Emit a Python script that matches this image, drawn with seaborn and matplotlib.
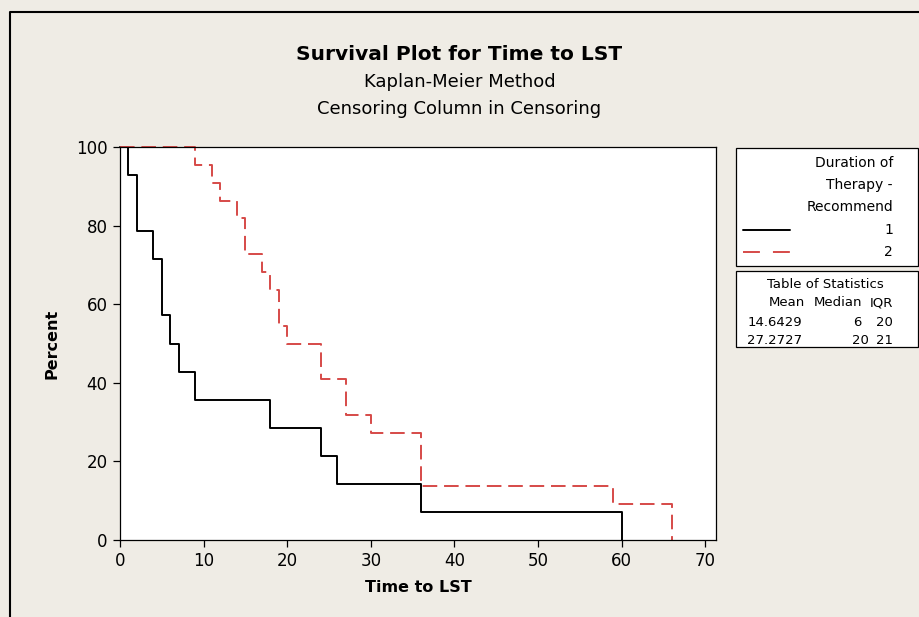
import matplotlib
matplotlib.use("Agg")
import matplotlib.pyplot as plt
from matplotlib.patches import Rectangle
from matplotlib.lines import Line2D
import seaborn as sns
import pandas as pd

# Kaplan-Meier steps
time_1 = [0, 1, 2, 4, 5, 6, 7, 9, 18, 24, 26, 36, 60]
pct_1 = [100, 92.857, 78.571, 71.429, 57.143, 50.0, 42.857, 35.714,
         28.571, 21.429, 14.286, 7.143, 0]
time_2 = [0, 9, 11, 12, 14, 15, 17, 18, 19, 20, 24, 27, 30, 36, 59, 66]
pct_2 = [100, 95.455, 90.909, 86.364, 81.818, 72.727, 68.182, 63.636,
         54.545, 50.0, 40.909, 31.818, 27.273, 13.636, 9.091, 0]

groups = ["1", "2"]
stat_mean = ["14.6429", "27.2727"]
stat_median = ["6", "20"]
stat_iqr = ["20", "21"]

x_ticks = [0, 10, 20, 30, 40, 50, 60, 70]
y_ticks = [0, 20, 40, 60, 80, 100]

BG = "#EFECE5"
RED = "#D64A48"
W, H = 919, 617
DASH = (0, (7.5, 3.5))

sns.set_style("ticks")
plt.rcParams["font.family"] = ["DejaVu Sans"]
plt.rcParams.update({"text.color": "black", "axes.labelcolor": "black",
                     "xtick.color": "black", "ytick.color": "black"})

fig = plt.figure(figsize=(W / 100, H / 100), dpi=100, facecolor=BG)


def fx(px):
    return px / W


def fy(py):
    return 1 - py / H


ax = fig.add_axes([fx(120), fy(540), fx(716) - fx(120), fy(147) - fy(540)])
ax.set_facecolor("white")

df1 = pd.DataFrame({"t": time_1, "p": pct_1})
df2 = pd.DataFrame({"t": time_2, "p": pct_2})
sns.lineplot(data=df1, x="t", y="p", drawstyle="steps-post", color="black",
             lw=1.4, estimator=None, sort=False, legend=False, ax=ax)
sns.lineplot(data=df2, x="t", y="p", drawstyle="steps-post", color=RED,
             lw=1.4, estimator=None, sort=False, legend=False, ax=ax)
ax.lines[1].set_linestyle(DASH)
for ln in ax.lines:
    ln.set_clip_on(False)

ax.set_xlim(0, 71.3)
ax.set_ylim(0, 100)
ax.set_xticks(x_ticks)
ax.set_yticks(y_ticks)
ax.tick_params(direction="out", length=5, width=0.9, labelsize=12,
               colors="black", pad=4)
for s in ax.spines.values():
    s.set_visible(True)
    s.set_linewidth(0.9)
    s.set_color("black")

ax.set_xlabel("Time to LST", fontsize=11.5, fontweight="bold")
ax.set_ylabel("Percent", fontsize=11.5, fontweight="bold")
ax.xaxis.set_label_coords(0.5, (540 - 587) / 393)
ax.yaxis.set_label_coords((52 - 120) / 596, 0.5)
ax.xaxis.label.set_va("center")
ax.yaxis.label.set_va("center")

# titles
fig.text(0.5, fy(55), "Survival Plot for Time to LST", ha="center", va="center",
         fontsize=14.5, fontweight="bold")
fig.text(0.5, fy(82), "Kaplan-Meier Method", ha="center", va="center", fontsize=13)
fig.text(0.5, fy(109), "Censoring Column in Censoring", ha="center", va="center",
         fontsize=13)

# outer frame
fig.add_artist(Line2D([fx(10), fx(10), fx(W + 5)], [fy(H + 5), fy(12), fy(12)],
                      transform=fig.transFigure, color="black", lw=1.5))

# legend box
fig.add_artist(Rectangle((fx(736), fy(266)), fx(918) - fx(736), fy(148) - fy(266),
                         transform=fig.transFigure, facecolor="white",
                         edgecolor="black", lw=0.9))
for txt, yy in zip(["Duration of", "Therapy -", "Recommend"], [163, 185, 207]):
    fig.text(fx(893), fy(yy), txt, ha="right", va="center", fontsize=10)
for g, yy, col, ls in zip(groups, [230, 252], ["black", RED], ["-", (0, (8.7, 6.7))]):
    fig.add_artist(Line2D([fx(743), fx(790)], [fy(yy), fy(yy)], transform=fig.transFigure,
                          color=col, lw=1.4, linestyle=ls))
    fig.text(fx(893), fy(yy), g, ha="right", va="center", fontsize=10)

# statistics box
fig.add_artist(Rectangle((fx(736), fy(347)), fx(918) - fx(736), fy(271) - fy(347),
                         transform=fig.transFigure, facecolor="white",
                         edgecolor="black", lw=0.9))
fig.text(fx(825), fy(285), "Table of Statistics", ha="center", va="center", fontsize=9.5)
for txt, xx in zip(["Mean", "Median", "IQR"], [805, 862, 893]):
    fig.text(fx(xx), fy(303), txt, ha="right", va="center", fontsize=9.5)
med_x = [861, 869]
for i in range(2):
    yy = [322, 341][i]
    fig.text(fx(802), fy(yy), stat_mean[i], ha="right", va="center", fontsize=9.5)
    fig.text(fx(med_x[i]), fy(yy), stat_median[i], ha="right", va="center", fontsize=9.5)
    fig.text(fx(893), fy(yy), stat_iqr[i], ha="right", va="center", fontsize=9.5)

fig.savefig("out.png", dpi=100, facecolor=BG)
